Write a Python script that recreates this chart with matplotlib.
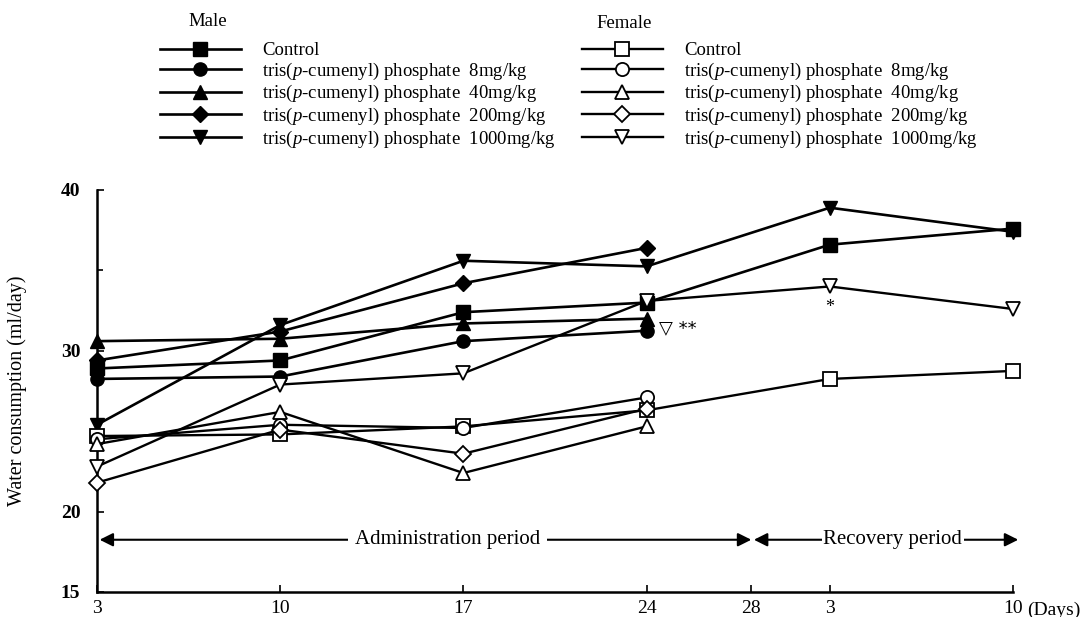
import matplotlib
matplotlib.use("Agg")
import matplotlib.pyplot as plt

plt.rcParams["font.family"] = ["Liberation Serif", "DejaVu Serif"]
plt.rcParams["mathtext.fontset"] = "custom"
plt.rcParams["mathtext.rm"] = "Liberation Serif"
plt.rcParams["mathtext.it"] = "Liberation Serif:italic"

# x positions in days from start (recovery day 3 = day 31, day 10 = day 38)
days = [3, 10, 17, 24, 31, 38]
tick_days = [3, 10, 17, 24, 28, 31, 38]
tick_labels = ["3", "10", "17", "24", "28", "3", "10"]
y_ticks = [15, 20, 30, 40]

dose_labels = [
    "Control",
    "tris($\\it{p}$-cumenyl) phosphate  8mg/kg",
    "tris($\\it{p}$-cumenyl) phosphate  40mg/kg",
    "tris($\\it{p}$-cumenyl) phosphate  200mg/kg",
    "tris($\\it{p}$-cumenyl) phosphate  1000mg/kg",
]
markers = ["s", "o", "^", "D", "v"]

male_control = [28.9, 29.4, 32.4, 33.0, 36.6, 37.6]
male_8 = [28.25, 28.4, 30.6, 31.25]
male_40 = [30.6, 30.75, 31.7, 32.0]
male_200 = [29.4, 31.2, 34.2, 36.4]
male_1000 = [25.4, 31.6, 35.6, 35.25, 38.9, 37.4]

female_control = [24.7, 24.8, 25.3, 26.3, 28.25, 28.75]
female_8 = [24.5, 25.4, 25.2, 27.1]
female_40 = [24.2, 26.2, 22.4, 25.3]
female_200 = [21.8, 25.1, 23.6, 26.4]
female_1000 = [22.8, 27.9, 28.6, 33.1, 34.0, 32.6]

male = [male_control, male_8, male_40, male_200, male_1000]
female = [female_control, female_8, female_40, female_200, female_1000]

W, H = 1081, 617
fig = plt.figure(figsize=(W / 100, H / 100), dpi=100)
ax = fig.add_axes([97 / W, 1 - 592 / H, 916 / W, 402 / H])

male_lines = []
for vals, m in zip(male, markers):
    ms = 8 if m == "D" else 9.5
    (ln,) = ax.plot(days[:len(vals)], vals, color="black", lw=1.9, marker=m,
                    markersize=ms, markerfacecolor="black", markeredgecolor="black",
                    clip_on=False, zorder=3)
    male_lines.append(ln)

female_lines = []
for vals, m in zip(female, markers):
    ms = 8 if m == "D" else 9.5
    (ln,) = ax.plot(days[:len(vals)], vals, color="black", lw=1.7, marker=m,
                    markersize=ms, markerfacecolor="white", markeredgecolor="black",
                    markeredgewidth=1.3, clip_on=False, zorder=4)
    female_lines.append(ln)

# significance marks
ax.annotate("\u25bd **", xy=(24, 31.4), xytext=(9, 0), textcoords="offset points",
            ha="left", va="center", fontsize=13, family=["DejaVu Sans"])
ax.annotate("*", xy=(31, 34.0), xytext=(0, -15), textcoords="offset points",
            ha="center", va="center", fontsize=13)

# period arrows
arrow_y = 18.25
arrow_kw = dict(arrowstyle="<|-|>", color="black", lw=1.5, mutation_scale=20,
                shrinkA=0, shrinkB=0)
ax.annotate("", xy=(3.1, arrow_y), xytext=(28, arrow_y), arrowprops=arrow_kw)
ax.annotate("", xy=(28.1, arrow_y), xytext=(38.2, arrow_y), arrowprops=arrow_kw)
ax.text(16.4, arrow_y, "Administration period", ha="center", va="center", fontsize=15,
        bbox=dict(facecolor="white", edgecolor="none", pad=5))
ax.text(33.4, arrow_y, "Recovery period", ha="center", va="center", fontsize=15,
        bbox=dict(facecolor="white", edgecolor="none", pad=1))

ax.set_xlim(3, 38)
ax.set_ylim(15, 40)
ax.set_xticks(tick_days)
ax.set_xticklabels(tick_labels, fontsize=14)
ax.set_yticks(y_ticks)
ax.set_yticklabels([str(v) for v in y_ticks], fontsize=14, fontweight="bold")
ax.set_yticks([25, 35], minor=True)
ax.tick_params(direction="in", length=5, width=1.2, pad=6)
ax.tick_params(axis="y", pad=12)
ax.tick_params(which="minor", direction="in", length=4, width=1.2)
for side in ["top", "right"]:
    ax.spines[side].set_visible(False)
for side in ["left", "bottom"]:
    ax.spines[side].set_linewidth(1.8)
ax.annotate("(Days)", xy=(38, 15), xytext=(10, -7), textcoords="offset points",
            ha="left", va="top", fontsize=14, annotation_clip=False)

ax.set_ylabel("Water consumption (ml/day)", fontsize=14.5)
ax.yaxis.set_label_coords(-0.076, 0.5)

# legends
leg_kw = dict(loc="upper left", frameon=False, handlelength=4.3, handletextpad=1.15,
              labelspacing=0.08, borderpad=0, borderaxespad=0, fontsize=13.5,
              numpoints=1)
fig.legend(handles=male_lines, labels=dose_labels, bbox_to_anchor=(160 / W, 1 - 42 / H), **leg_kw)
fig.legend(handles=female_lines, labels=dose_labels, bbox_to_anchor=(582 / W, 1 - 42 / H), **leg_kw)
fig.text(208 / W, 1 - 22 / H, "Male", ha="center", va="center", fontsize=13.5)
fig.text(624 / W, 1 - 24 / H, "Female", ha="center", va="center", fontsize=13.5)

fig.savefig("out.png", dpi=100, facecolor="white")
